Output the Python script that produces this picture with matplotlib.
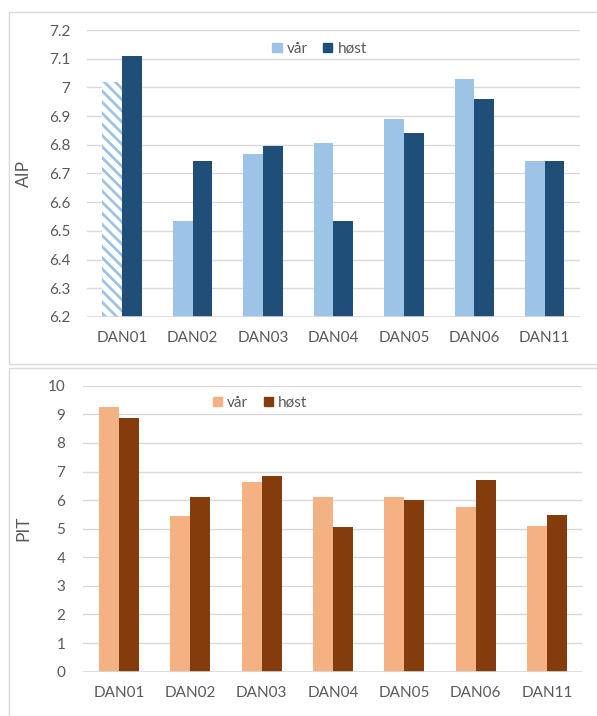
import numpy as np
import matplotlib
matplotlib.use("Agg")
import matplotlib.pyplot as plt
from matplotlib.patches import Rectangle
from matplotlib.ticker import FuncFormatter

plt.rcParams["font.family"] = ["Lato", "DejaVu Sans"]
plt.rcParams["hatch.linewidth"] = 2.0

stations = ["DAN01", "DAN02", "DAN03", "DAN04", "DAN05", "DAN06", "DAN11"]
aip_var = [7.02, 6.535, 6.767, 6.805, 6.89, 7.03, 6.745]
aip_host = [7.11, 6.745, 6.797, 6.535, 6.84, 6.958, 6.745]
pit_var = [9.25, 5.45, 6.65, 6.1, 6.1, 5.75, 5.1]
pit_host = [8.88, 6.1, 6.83, 5.05, 6.0, 6.72, 5.48]
season_labels = ["vår", "høst"]

TXT = "#595959"
GRID = "#D9D9D9"
FS = 11


def fmt(v, _):
    return f"{v:g}"


def style_axis(ax, ylab, ypad, labx):
    for s in ax.spines.values():
        s.set_visible(False)
    ax.grid(axis="y", color=GRID, linewidth=1.0)
    ax.set_axisbelow(True)
    ax.tick_params(axis="both", length=0, labelsize=FS, colors=TXT)
    ax.tick_params(axis="y", pad=ypad)
    ax.tick_params(axis="x", pad=10)
    ax.set_ylabel(ylab, fontsize=12.5, color=TXT)
    ax.yaxis.set_label_coords(labx, 0.5)
    ax.yaxis.set_major_formatter(FuncFormatter(fmt))


fig = plt.figure(figsize=(5.97, 7.16), dpi=100)

# panel frames
for y0, y1 in [(12, 364), (368, 722)]:
    fig.patches.append(Rectangle((9 / 597, 1 - y1 / 716), 600 / 597, (y1 - y0) / 716,
                                 transform=fig.transFigure, fill=False,
                                 edgecolor=GRID, linewidth=1.0))

x = np.arange(len(stations))
w = 0.28

# AIP
ax1 = fig.add_axes([0.1457, 0.5573, 0.8258, 0.4008])
b1 = ax1.bar(x - w / 2, aip_var, w, color="#9DC3E6")
ax1.bar(x + w / 2, aip_host, w, color="#1F4E79")
b1[0].set_facecolor("white")
b1[0].set_edgecolor("#9DC3E6")
b1[0].set_linewidth(0)
b1[0].set_hatch("\\\\\\")
ax1.set_ylim(6.2, 7.2)
ax1.set_yticks(np.round(np.arange(6.2, 7.21, 0.1), 1))
ax1.set_xlim(-0.5, len(stations) - 0.5)
ax1.set_xticks(x, stations)
style_axis(ax1, "AIP", 12, -0.112)
ax1.axhline(6.2, color=GRID, linewidth=1.2)
h1 = [plt.Rectangle((0, 0), 1, 1, color="#9DC3E6"), plt.Rectangle((0, 0), 1, 1, color="#1F4E79")]
ax1.legend(h1, season_labels, loc="center", bbox_to_anchor=(0.472, 0.934), ncol=2,
           frameon=False, handlelength=0.6, handleheight=0.6, handletextpad=0.35,
           columnspacing=1.0, fontsize=FS, labelcolor=TXT)

# PIT
ax2 = fig.add_axes([0.1397, 0.0619, 0.836, 0.3994])
ax2.bar(x - w / 2, pit_var, w, color="#F4B183")
ax2.bar(x + w / 2, pit_host, w, color="#843C0C")
ax2.set_ylim(0, 10)
ax2.set_yticks(range(0, 11))
ax2.set_xlim(-0.5, len(stations) - 0.5)
ax2.set_xticks(x, stations)
style_axis(ax2, "PIT", 13, -0.104)
ax2.axhline(0, color=GRID, linewidth=1.2)
h2 = [plt.Rectangle((0, 0), 1, 1, color="#F4B183"), plt.Rectangle((0, 0), 1, 1, color="#843C0C")]
ax2.legend(h2, season_labels, loc="center", bbox_to_anchor=(0.354, 0.94), ncol=2,
           frameon=False, handlelength=0.6, handleheight=0.6, handletextpad=0.35,
           columnspacing=1.0, fontsize=FS, labelcolor=TXT)

fig.savefig("out.png", dpi=100)
